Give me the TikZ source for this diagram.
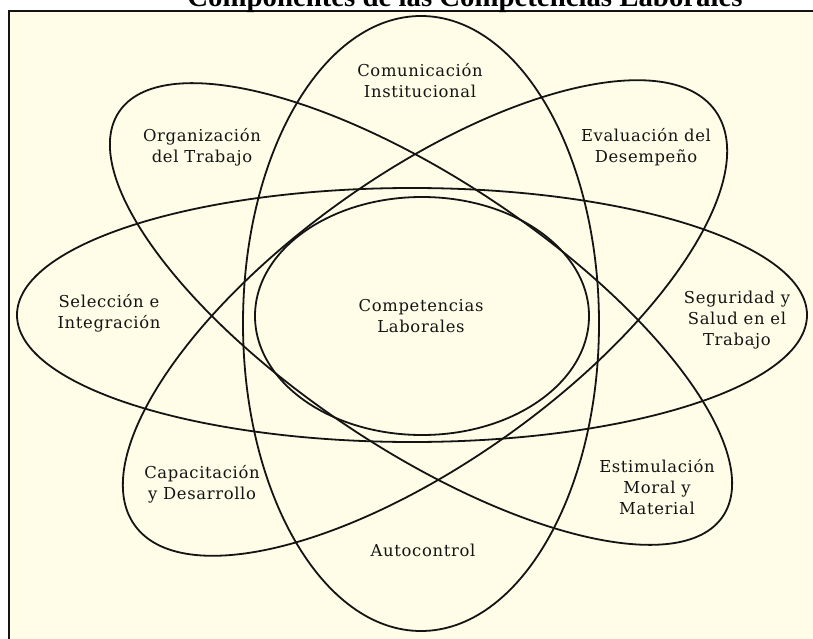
\documentclass[tikz,border=0pt]{standalone}
\usepackage{fontspec}
\setmainfont{Liberation Serif}
\newfontfamily\lblfont[LetterSpace=4]{DejaVu Serif}
\definecolor{cream}{HTML}{FFFDE7}
\definecolor{ink}{HTML}{141414}
\tikzset{
  ring/.style={draw=ink, line width=1.8pt},
  lbl/.style={align=center, inner sep=0pt, text=ink, font=\lblfont\fontsize{16.4}{21}\selectfont},
  frameline/.style={draw=ink, line width=2pt}
}
\begin{document}
\begin{tikzpicture}[x=1pt,y=1pt]
\useasboundingbox (0,0) rectangle (813,-639);
\clip (0,0) rectangle (813,-639);
\fill[white] (0,0) rectangle (813,-639);
\fill[cream] (9,-11) rectangle (813,-639);
\draw[frameline] (9,-639) -- (9,-11) -- (813,-11);
% title
\node[anchor=base, inner sep=0pt] (title) at (465,-7) {\bfseries\fontsize{28.8}{30}\selectfont Componentes de las Competencias Laborales};
% ellipses
\draw[ring] (412,-315) ellipse [x radius=395, y radius=127];
\draw[ring] (421,-323.5) ellipse [x radius=178, y radius=307.5];
\draw[ring, rotate around={-33.8:(421,-314)}] (421,-314) ellipse [x radius=363.4, y radius=134.1];
\draw[ring, rotate around={35.5:(425,-318)}] (425,-318) ellipse [x radius=356.7, y radius=143.4];
\draw[ring] (422,-316) ellipse [x radius=167, y radius=119];
% labels
\node[lbl] (com) at (420,-81) {Comunicación\\Institucional};
\node[lbl] (org) at (202,-147) {Organización\\del Trabajo};
\node[lbl] (eva) at (646,-147) {Evaluación del\\Desempeño};
\node[lbl] (sel) at (109,-313) {Selección e\\Integración};
\node[lbl] (cen) at (421,-316) {Competencias\\Laborales};
\node[lbl] (seg) at (737,-320) {Seguridad y\\Salud en el\\Trabajo};
\node[lbl] (cap) at (202,-484) {Capacitación\\y Desarrollo};
\node[lbl] (est) at (657,-487) {Estimulación\\Moral y\\Material};
\node[lbl] (aut) at (423,-550) {Autocontrol};
\end{tikzpicture}
\end{document}
